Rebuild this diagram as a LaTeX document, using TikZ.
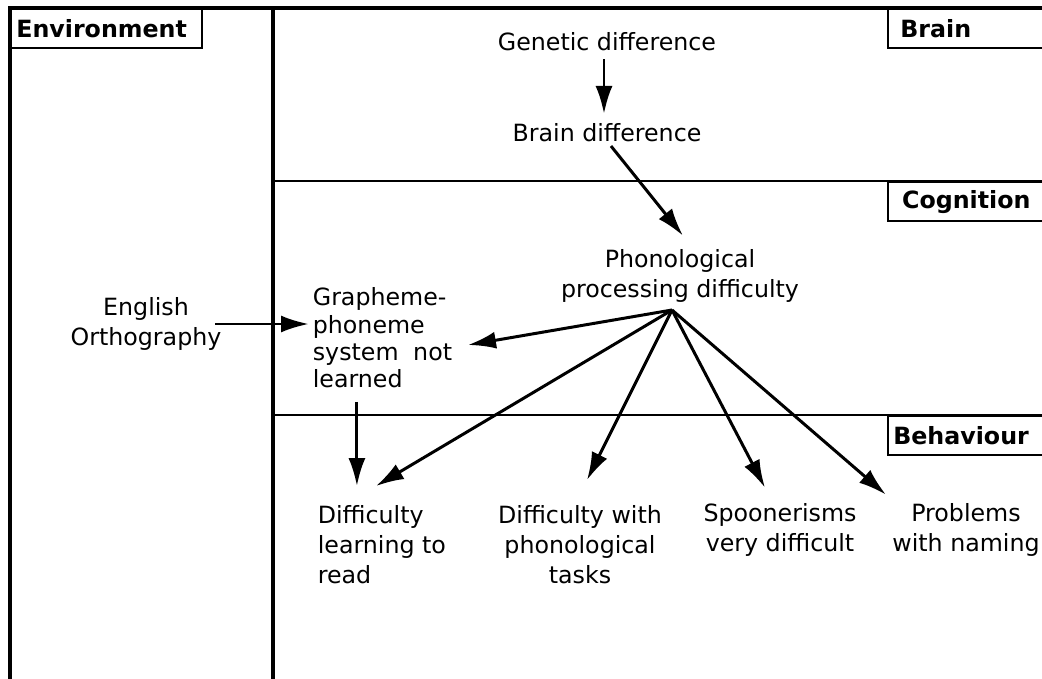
\documentclass[tikz,border=0pt]{standalone}
\usepackage{fontspec}
\setmainfont{DejaVu Sans}
\usetikzlibrary{arrows.meta,calc}

\tikzset{
  txt/.style={align=center, inner sep=2pt, font=\fontsize{13.5}{17}\selectfont},
  lbl/.style={draw, line width=1.2pt, anchor=north west, inner xsep=3pt,
    minimum height=0.78cm, font=\bfseries\fontsize{13.5}{16}\selectfont},
  arr/.style={-{Latex[length=0.56cm,width=0.34cm]}, line width=1.7pt},
  frame/.style={line width=1.9pt}
}

\begin{document}
\begin{tikzpicture}[x=0.02cm,y=-0.02cm]
  \useasboundingbox (0,0) rectangle (1042,679);
  % frame
  \draw[frame] (10,679) -- (10,8) -- (1042,8);
  \draw[frame] (273,8) -- (273,679);
  \draw[line width=1.7pt] (273,181) -- (1042,181);
  \draw[line width=1.7pt] (273,415) -- (1042,415);

  % level labels
  \node[lbl, text width=3.6cm] (env) at (10,8) {Environment};
  \node[lbl, text width=3.3cm] (brain) at (887,8) {\hspace{4pt}Brain};
  \node[lbl, text width=3.3cm] (cogn) at (887,181) {\hspace{5pt}Cognition};
  \node[lbl, text width=3.3cm] (behav) at (887,415) {Behaviour};

  % nodes
  \node[txt] (gene) at (607,42) {Genetic difference};
  \node[txt] (brdiff) at (607,133) {Brain difference};
  \node[txt] (phon) at (680,276) {Phonological\\processing difficulty};
  \node[txt] (engl) at (146,324) {English\\Orthography};
  \node[txt, align=left, anchor=west, font=\fontsize{13.5}{15.5}\selectfont] (graph) at (309,338)
    {Grapheme-\\phoneme\\system\hspace{0.3em} not\\learned};
  \node[txt, align=left, anchor=west] (read) at (314,545) {Difficulty\\learning to\\read};
  \node[txt] (tasks) at (580,545) {Difficulty with\\phonological\\tasks};
  \node[txt] (spoon) at (780,530) {Spoonerisms\\very difficult};
  \node[txt] (naming) at (966,530) {Problems\\with naming};
  \coordinate (fan) at (672,310);
  \coordinate (rdtip) at ($(read.north)+(-25,-16)$);

  % arrows
  \draw[arr] ($(gene.south)+(-3,4)$) -- ($(brdiff.north)+(-3,-6)$);
  \draw[arr] ($(brdiff.south)+(4,0)$) -- ($(phon.north)+(3,-10)$);
  \draw[arr] ($(engl.east)+(-10,0)$) -- (engl.east -| graph.west);
  \draw[arr] (fan) -- ($(graph.east)+(12,7)$);
  \draw[arr] ($(rdtip |- graph.south)+(0,10)$) -- (rdtip);
  \draw[arr] (fan) -- ($(read.north)+(-6,-16)$);
  \draw[arr] (fan) -- ($(tasks.north)+(7,-22)$);
  \draw[arr] (fan) -- ($(spoon.north)+(-15,-12)$);
  \draw[arr] (fan) -- ($(naming.north)+(-80,-5)$);
\end{tikzpicture}
\end{document}
